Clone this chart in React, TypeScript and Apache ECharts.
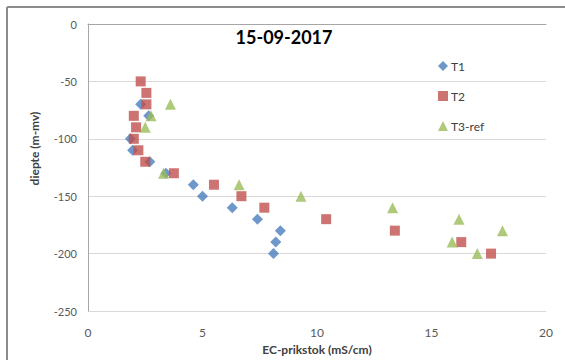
import React, { useEffect, useRef } from "react";
import * as echarts from "echarts";

const titleText = "15-09-2017";
const xAxisName = "EC-prikstok (mS/cm)";
const yAxisName = "diepte (m-mv)";

const t1Ec = [2.3, 2.65, 1.85, 1.95, 2.7, 3.4, 4.6, 5.0, 6.3, 7.4, 8.4, 8.2, 8.1];
const t1Depth = [-70, -80, -100, -110, -120, -130, -140, -150, -160, -170, -180, -190, -200];

const t2Ec = [2.3, 2.55, 2.55, 2.0, 2.1, 2.0, 2.2, 2.5, 3.75, 5.5, 6.7, 7.7, 10.4, 13.4, 16.3, 17.6];
const t2Depth = [-50, -60, -70, -80, -90, -100, -110, -120, -130, -140, -150, -160, -170, -180, -190, -200];

const t3Ec = [3.6, 2.75, 2.5, 3.3, 6.6, 9.3, 13.3, 16.2, 18.1, 15.9, 17.0];
const t3Depth = [-70, -80, -90, -130, -140, -150, -160, -170, -180, -190, -200];

const seriesNames = ["T1", "T2", "T3-ref"];
const seriesColors = ["#4A7EBB", "#C0504D", "#9BBB59"];

const zip = (xs: number[], ys: number[]) => xs.map((x, i) => [x, ys[i]]);

const FONT = "Lato, 'Open Sans', sans-serif";

export default function App() {
  const ref = useRef<HTMLDivElement>(null);
  useEffect(() => {
    if (!ref.current) return;
    const chart = echarts.init(ref.current, undefined, { renderer: "svg" });
    chart.setOption({
      animation: false,
      backgroundColor: "#ffffff",
      title: {
        text: titleText,
        left: 279,
        textAlign: "center",
        top: 23,
        textStyle: { fontFamily: FONT, fontSize: 18, fontWeight: "bold", color: "#000" },
      },
      legend: {
        orient: "vertical",
        left: 433,
        top: 55,
        itemWidth: 10,
        itemHeight: 10,
        itemGap: 18,
        data: seriesNames,
        textStyle: { fontFamily: FONT, fontSize: 12, color: "#404040", padding: [0, 0, 0, -2] },
      },
      grid: { left: 88, right: 19, top: 24, bottom: 49, outerBoundsMode: "none", containLabel: false },
      xAxis: {
        type: "value",
        min: 0,
        max: 20,
        interval: 5,
        name: xAxisName,
        nameLocation: "middle",
        nameGap: 32,
        nameTextStyle: { fontFamily: FONT, fontSize: 12, fontWeight: "bold", color: "#404040" },
        axisLine: { show: true, lineStyle: { color: "#a6a6a6" } },
        axisTick: { show: false },
        splitLine: { show: false },
        axisLabel: { fontFamily: FONT, fontSize: 12, color: "#595959", margin: 15 },
      },
      yAxis: {
        type: "value",
        min: -250,
        max: 0,
        interval: 50,
        name: yAxisName,
        nameLocation: "middle",
        nameGap: 48,
        nameRotate: 90,
        nameTextStyle: { fontFamily: FONT, fontSize: 12, fontWeight: "bold", color: "#404040", padding: [0, 0, 0, 38] },
        axisLine: { show: true, lineStyle: { color: "#a6a6a6" } },
        axisTick: { show: false },
        splitLine: { show: true, lineStyle: { color: "#d9d9d9" } },
        axisLabel: { fontFamily: FONT, fontSize: 11, color: "#595959", margin: 11 },
      },
      graphic: [
        { type: "line", shape: { x1: 7, y1: 7, x2: 565, y2: 7 }, style: { stroke: "#8c8c8c", lineWidth: 2 } },
        { type: "line", shape: { x1: 7, y1: 7, x2: 7, y2: 360 }, style: { stroke: "#8c8c8c", lineWidth: 2 } },
      ],
      series: [
        {
          name: seriesNames[0],
          type: "scatter",
          symbol: "diamond",
          symbolSize: 11,
          itemStyle: { color: seriesColors[0] },
          data: zip(t1Ec, t1Depth),
        },
        {
          name: seriesNames[1],
          type: "scatter",
          symbol: "rect",
          symbolSize: 10,
          itemStyle: { color: seriesColors[1] },
          data: zip(t2Ec, t2Depth),
        },
        {
          name: seriesNames[2],
          type: "scatter",
          symbol: "triangle",
          symbolSize: 11,
          itemStyle: { color: seriesColors[2] },
          data: zip(t3Ec, t3Depth),
        },
      ],
    });
    return () => chart.dispose();
  }, []);
  return (
    <div
      ref={ref}
      style={{ position: "absolute", left: 0, top: 0, width: 565, height: 360 }}
    />
  );
}
